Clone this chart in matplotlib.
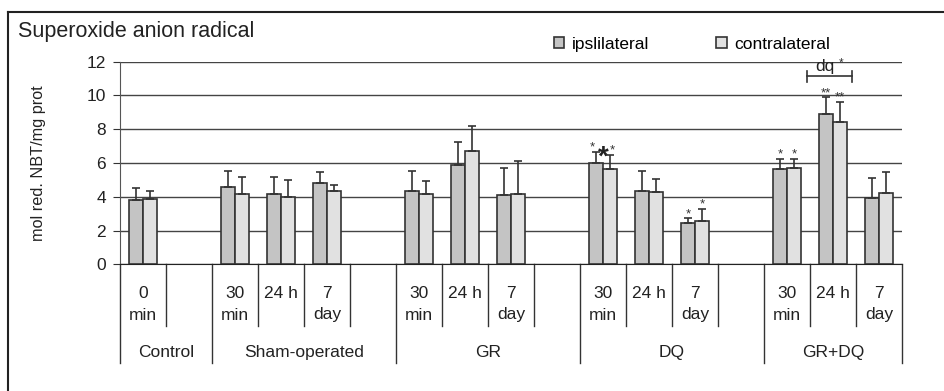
import matplotlib
matplotlib.use('Agg')
import matplotlib.pyplot as plt
from matplotlib.lines import Line2D

plt.rcParams['font.family'] = ['Liberation Sans', 'DejaVu Sans']

# groups and their time points (an empty slot follows every group but the last)
groups = ['Control', 'Sham-operated', 'GR', 'DQ', 'GR+DQ']
group_times = [['0\nmin'],
               ['30\nmin', '24 h', '7\nday'],
               ['30\nmin', '24 h', '7\nday'],
               ['30\nmin', '24 h', '7\nday'],
               ['30\nmin', '24 h', '7\nday']]

ipsi = [3.83, 4.60, 4.16, 4.84, 4.36, 5.86, 4.09, 5.98, 4.36, 2.47, 5.63, 8.88, 3.91]
ipsi_err = [0.71, 0.93, 1.03, 0.61, 1.19, 1.39, 1.61, 0.69, 1.19, 0.25, 0.59, 1.01, 1.18]
contra = [3.89, 4.16, 4.00, 4.34, 4.18, 6.73, 4.18, 5.63, 4.26, 2.56, 5.72, 8.43, 4.20]
contra_err = [0.43, 1.03, 1.00, 0.34, 0.77, 1.46, 1.96, 0.84, 0.77, 0.70, 0.50, 1.20, 1.25]

sig_ipsi = ['', '', '', '', '', '', '', '*', '', '*', '*', '**', '']
sig_contra = ['', '', '', '', '', '', '', '*', '', '*', '*', '**', '']

# slot layout
slots = []
group_bounds = [0]
pos = 0
for gi, times in enumerate(group_times):
    for t in times:
        slots.append(pos)
        pos += 1
    if gi < len(group_times) - 1:
        pos += 1
    group_bounds.append(pos)
nslots = pos
centers = [s + 0.5 for s in slots]
labels = [t for times in group_times for t in times]

w = 0.3
c_ipsi = '#c4c4c4'
c_contra = '#e1e1e1'
edge = '#333333'
fs = 12.5

fig = plt.figure(figsize=(9.44, 3.91), dpi=100)
ax = fig.add_axes([120 / 944, 1 - 264.3 / 391, 782 / 944, 202.6 / 391])

x_i = [c - w / 2 for c in centers]
x_c = [c + w / 2 for c in centers]
err_kw = dict(ecolor=edge, elinewidth=1.2, capsize=3.2, capthick=1.2)
b1 = ax.bar(x_i, ipsi, w, color=c_ipsi, edgecolor=edge, linewidth=1.2,
            yerr=[[0] * len(ipsi), ipsi_err], error_kw=err_kw, label='ipslilateral', zorder=3)
b2 = ax.bar(x_c, contra, w, color=c_contra, edgecolor=edge, linewidth=1.2,
            yerr=[[0] * len(contra), contra_err], error_kw=err_kw, label='contralateral', zorder=3)

ax.set_xlim(0, nslots)
ax.set_ylim(0, 12)
ax.set_yticks(range(0, 13, 2))
ax.set_xticks([])
ax.yaxis.grid(True, color='#444444', linewidth=1)
ax.set_axisbelow(True)
for s in ['top', 'right']:
    ax.spines[s].set_visible(False)
ax.spines['left'].set_color('#555555')
ax.spines['bottom'].set_color('#222222')
ax.tick_params(axis='y', length=5, pad=5, labelsize=fs, color='#333333', labelcolor='#222222')
ax.set_ylabel('mol red. NBT/mg prot', fontsize=11.7, color='#222222')
ax.yaxis.set_label_coords(-0.095, 0.5)

# significance marks
for i in range(len(ipsi)):
    if sig_ipsi[i]:
        dx = -0.08 if i == 7 else 0
        ax.text(x_i[i] + dx, ipsi[i] + ipsi_err[i] + 0.08, sig_ipsi[i], ha='center',
                va='baseline', fontsize=9.5, color='#333333')
    if sig_contra[i]:
        dx = 0.05 if i == 7 else 0
        ax.text(x_c[i] + dx, contra[i] + contra_err[i] + 0.08, sig_contra[i], ha='center',
                va='baseline', fontsize=9.5, color='#333333')
ax.text(centers[7], ipsi[7] - 0.05, '*', ha='center', va='baseline', fontsize=20,
        fontweight='bold', color='#222222')

# dq bracket over GR+DQ 24 h
bx0, bx1, by = centers[11] - 0.57, centers[11] + 0.41, 11.15
ax.plot([bx0, bx1], [by, by], color='#333333', lw=1.2, clip_on=False)
ax.plot([bx0, bx0], [by - 0.35, by + 0.3], color='#333333', lw=1.2, clip_on=False)
ax.plot([bx1, bx1], [by - 0.35, by + 0.3], color='#333333', lw=1.2, clip_on=False)
ax.text(centers[11] - 0.18, by + 0.3, 'dq', ha='center', va='baseline', fontsize=fs, color='#222222')
ax.text(centers[11] + 0.17, by + 0.55, '*', ha='center', va='baseline', fontsize=8.5, color='#333333')

# category table under the axis
ppu = 202.6 / 12
for b in range(nslots + 1):
    yb = -98.7 / ppu if b in group_bounds else -61.7 / ppu
    ax.plot([b, b], [0, yb], color='#333333', lw=1, clip_on=False)
for c, lab in zip(centers, labels):
    parts = lab.split('\n')
    ax.text(c, -28.7 / ppu, parts[0], ha='center', va='center', fontsize=fs, color='#222222')
    if len(parts) > 1:
        ax.text(c, -50.7 / ppu, parts[1], ha='center', va='center', fontsize=fs, color='#222222')
for g in range(len(groups)):
    gc = (group_bounds[g] + group_bounds[g + 1]) / 2
    ax.text(gc, -88 / ppu, groups[g], ha='center', va='center', fontsize=fs, color='#222222')

fig.text(18 / 944, 1 - 31 / 391, 'Superoxide anion radical', ha='left', va='center',
         fontsize=15.5, color='#222222')

ax.legend(handles=[b1, b2], loc='center left', bbox_to_anchor=(554 / 944, 1 - 44.3 / 391),
          bbox_transform=fig.transFigure, ncol=2, frameon=False, fontsize=fs,
          handlelength=0.6, handleheight=0.6, handletextpad=0.45, columnspacing=3.85,
          borderpad=0, borderaxespad=0)

# frame around the figure (left and top edges)
fig.add_artist(Line2D([8 / 944, 8 / 944], [0, 1 - 12 / 391], color='#222222', lw=1.5))
fig.add_artist(Line2D([8 / 944, 1], [1 - 12 / 391, 1 - 12 / 391], color='#222222', lw=1.5))

fig.savefig('out.png', dpi=100)
